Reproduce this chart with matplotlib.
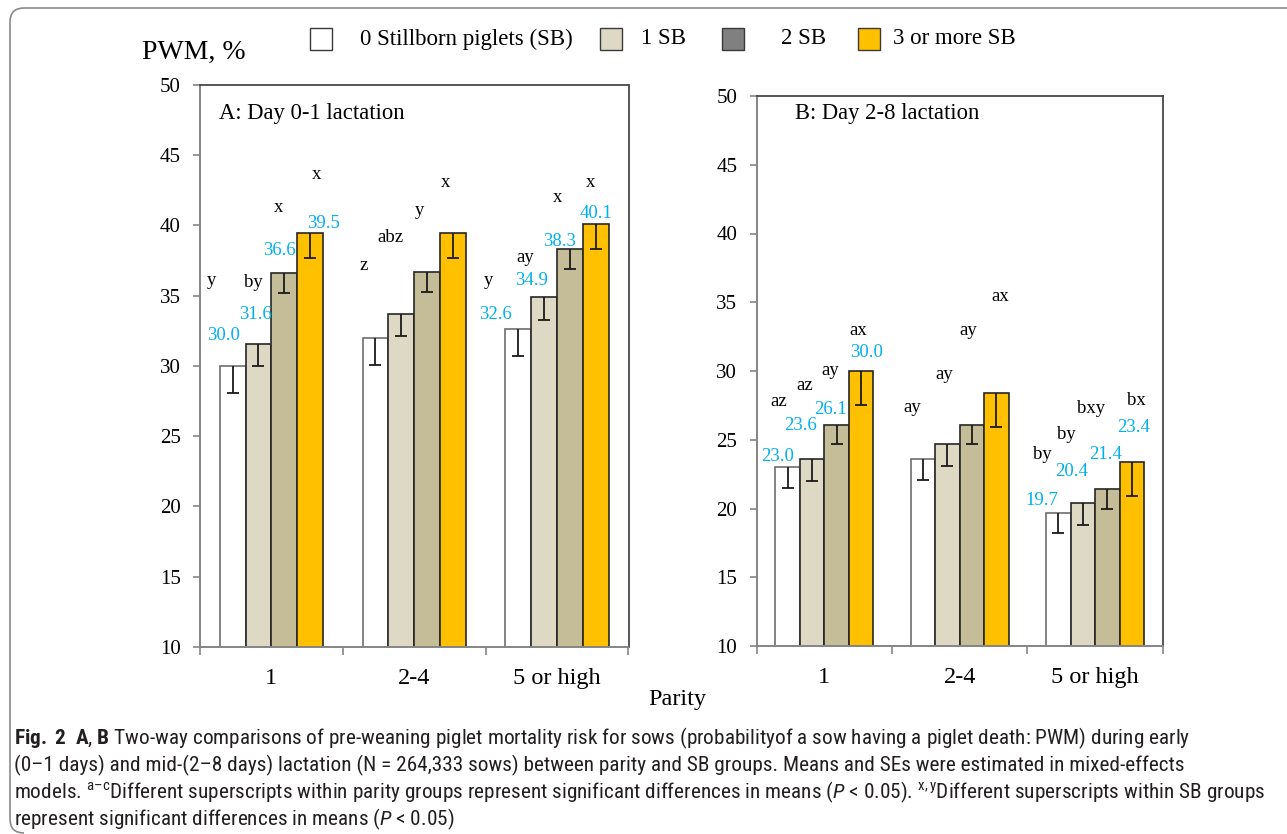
import numpy as np
import matplotlib
matplotlib.use("Agg")
import matplotlib.pyplot as plt
from matplotlib import font_manager
from matplotlib.patches import Rectangle, PathPatch
from matplotlib.path import Path
from matplotlib.transforms import IdentityTransform

# ---------------------------------------------------------------- data
parity = ["1", "2-4", "5 or high"]
sb_groups = ["0 Stillborn piglets (SB)", "1 SB", "2 SB", "3 or more SB"]

# PWM (%) by parity (rows) and SB group (columns)
pwm_day01 = [[30.0, 31.6, 36.6, 39.5],
             [32.0, 33.7, 36.7, 39.5],
             [32.6, 34.9, 38.3, 40.1]]
se_day01 = [[1.9, 1.6, 1.4, 1.8],
            [1.9, 1.6, 1.4, 1.8],
            [1.9, 1.6, 1.4, 1.8]]
pwm_day28 = [[23.0, 23.6, 26.1, 30.0],
             [23.6, 24.7, 26.1, 28.4],
             [19.7, 20.4, 21.4, 23.4]]
se_day28 = [[1.5, 1.6, 1.4, 2.5],
            [1.5, 1.6, 1.4, 2.5],
            [1.5, 1.6, 1.4, 2.5]]

letters_day01 = [["y", "by", "x", "x"],
                 ["z", "abz", "y", "x"],
                 ["y", "ay", "x", "x"]]
letters_day28 = [["az", "az", "ay", "ax"],
                 ["ay", "ay", "ay", "ax"],
                 ["by", "by", "bxy", "bx"]]
# parity groups whose means are printed above the bars
labelled_parity = [0, 2]

# ------------------------------------------------------------- layout
# text anchors (data coords) for superscript letters and printed means
letter_pos_A = [[(-0.418, 36.07), (-0.127, 35.93), (0.053, 41.30), (0.317, 43.60)],
                [(0.644, 37.12), (0.835, 39.18), (1.034, 41.10), (1.220, 43.05)],
                [(1.522, 36.12), (1.776, 37.74), (2.005, 41.98), (2.231, 43.05)]]
value_pos_A = {0: [(-0.337, 32.33), (-0.115, 33.79), (0.053, 38.33), (0.363, 40.27)],
               2: [(1.566, 33.79), (1.823, 36.24), (2.016, 39.00), (2.273, 40.98)]}
letter_pos_B = [[(-0.340, 27.77), (-0.143, 28.91), (0.042, 30.02), (0.251, 32.93)],
                [(0.653, 27.36), (0.884, 29.71), (1.064, 32.93), (1.298, 35.40)],
                [(1.611, 23.96), (1.791, 25.35), (1.968, 27.29), (2.308, 27.84)]]
value_pos_B = {0: [(-0.347, 23.96), (-0.180, 26.15), (0.047, 27.36), (0.308, 31.48)],
               2: [(1.606, 20.74), (1.828, 22.85), (2.081, 24.06), (2.283, 26.00)]}

bar_fill = ["#FFFFFF", "#DDD9C4", "#C4BD97", "#FFC000"]
bar_edge = ["#6E6E6E", "#262626", "#262626", "#262626"]
legend_fill = ["#FFFFFF", "#DDD9C4", "#808080", "#FFC000"]
value_color = "#00B0F0"
axis_gray = "#858585"

W, H = 1287, 834
SERIF = "Liberation Serif"
plt.rcParams["font.family"] = [SERIF, "DejaVu Serif"]

fig = plt.figure(figsize=(W / 100, H / 100), dpi=100)
fig.patch.set_facecolor("white")


def px_box(left, top, right, bottom):
    return [left / W, 1 - bottom / H, (right - left) / W, (bottom - top) / H]


def draw_panel(ax, values, errors, letters, letter_pos, value_pos, title, title_xy):
    values = np.asarray(values)
    errors = np.asarray(errors)
    x = np.arange(len(parity))
    width = 0.181
    offsets = (np.arange(len(sb_groups)) - 1.5) * width
    for k in range(len(sb_groups)):
        ax.bar(x + offsets[k], values[:, k], width=width, bottom=0,
               color=bar_fill[k], edgecolor=bar_edge[k], linewidth=1.2, zorder=2)
        eb = ax.errorbar(x + offsets[k], values[:, k],
                         yerr=[errors[:, k], np.zeros(len(parity))],
                         fmt="none", ecolor="#1a1a1a", elinewidth=1.3,
                         capsize=4.2, capthick=1.3, zorder=3)
        caps = eb.lines[1]
        if len(caps) > 1:
            caps[1].set_visible(False)   # minus-only bars: no cap at the bar top
    for i in range(len(parity)):
        for k in range(len(sb_groups)):
            lx, ly = letter_pos[i][k]
            ax.text(lx, ly, letters[i][k], ha="center", va="center",
                    fontsize=13.5, color="black", zorder=4)
    for i in labelled_parity:
        for k in range(len(sb_groups)):
            vx, vy = value_pos[i][k]
            ax.text(vx, vy, f"{values[i, k]:.1f}", ha="center",
                    va="center_baseline", fontsize=13.5, color=value_color, zorder=4)

    ax.set_xlim(-0.5, len(parity) - 0.5)
    ax.set_ylim(10, 50)
    ax.set_yticks(np.arange(10, 51, 5))
    ax.set_xticks(np.arange(len(parity) + 1) - 0.5)
    ax.set_xticklabels([])
    ax.set_xticks(x, minor=True)
    ax.set_xticklabels(parity, minor=True, fontsize=17.5)
    ax.tick_params(axis="x", which="major", direction="out", length=6,
                   width=1.2, color=axis_gray)
    ax.tick_params(axis="x", which="minor", length=0, pad=15)
    ax.tick_params(axis="y", direction="out", length=5, width=1.2,
                   color=axis_gray, labelsize=15, pad=9)
    for side in ("left", "bottom"):
        ax.spines[side].set_color(axis_gray)
        ax.spines[side].set_linewidth(1.4)
    for side in ("top", "right"):
        ax.spines[side].set_color("#3a3a3a")
        ax.spines[side].set_linewidth(1.2)
    ax.text(title_xy[0], title_xy[1], title, transform=ax.transAxes,
            ha="left", va="center", fontsize=16.3)


axA = fig.add_axes(px_box(200, 85, 628.5, 647))
axB = fig.add_axes(px_box(756.7, 96, 1162.7, 646))
draw_panel(axA, pwm_day01, se_day01, letters_day01, letter_pos_A, value_pos_A,
           "A: Day 0-1 lactation", (0.044, 0.950))
draw_panel(axB, pwm_day28, se_day28, letters_day28, letter_pos_B, value_pos_B,
           "B: Day 2-8 lactation", (0.094, 0.969))

# axis titles
fig.text(142 / W, 1 - 52 / H, "PWM, %", ha="left", va="center", fontsize=20)
fig.text(677 / W, 1 - 700 / H, "Parity", ha="center", va="center", fontsize=17.5)

# legend row across the top
patch_left = [310, 600, 722, 858]
text_left = [360, 641, 781, 893]
for k, name in enumerate(sb_groups):
    fig.patches.append(Rectangle((patch_left[k] / W, 1 - 50 / H), 22 / W, 22 / H,
                                 transform=fig.transFigure, facecolor=legend_fill[k],
                                 edgecolor="#3a3a3a", linewidth=1.0))
    fig.text(text_left[k] / W, 1 - 39 / H, name, ha="left", va="center", fontsize=16.5)

# caption
names = {f.name for f in font_manager.fontManager.ttflist}
cap_font = next(n for n in ["Liberation Sans Narrow", "Roboto Condensed",
                            "Open Sans Condensed", "Noto Sans", "DejaVu Sans"] if n in names)
plt.rcParams["mathtext.fontset"] = "custom"
plt.rcParams["mathtext.rm"] = cap_font
plt.rcParams["mathtext.it"] = cap_font + ":italic"
plt.rcParams["mathtext.bf"] = cap_font + ":bold"

cap_color = "#231F20"
DASH = "\u2013"
caption = [
    "$\\mathbf{Fig.\\ 2}$  $\\mathbf{A}$, $\\mathbf{B}$ Two-way comparisons of pre-weaning piglet "
    "mortality risk for sows (probabilityof a sow having a piglet death: PWM) during early",
    f"(0{DASH}1 days) and mid-(2{DASH}8 days) lactation (N = 264,333 sows) between parity "
    "and SB groups. Means and SEs were estimated in mixed-effects",
    f"models. $^{{\\mathrm{{a{DASH}c}}}}$Different superscripts within parity groups represent "
    "significant differences in means ($\\mathit{P}$ < 0.05). $^{\\mathrm{x,y}}$Different "
    "superscripts within SB groups",
    "represent significant differences in means ($\\mathit{P}$ < 0.05)",
]
line_right = [1225, 1218, 1266, 557]
baselines = [744, 771, 798, 825]
cap_left = 14

renderer = fig.canvas.get_renderer()
scales = []
for line, right in zip(caption, line_right):
    probe = fig.text(0, 0, line, fontsize=12, family=cap_font)
    scales.append((right - cap_left) / probe.get_window_extent(renderer).width)
    probe.remove()
cap_size = 12 * min(scales)
for line, yb in zip(caption, baselines):
    fig.text(cap_left / W, 1 - yb / H, line, ha="left", va="baseline",
             fontsize=cap_size, family=cap_font, color=cap_color)

# frame: top and left edges with rounded corners
r = 14
top, left, bottom = H - 8, 10, H - 833
verts = [(W, top), (left + r, top), (left, top), (left, top - r),
         (left, bottom + r), (left, bottom), (left + r, bottom)]
codes = [Path.MOVETO, Path.LINETO, Path.CURVE3, Path.CURVE3,
         Path.LINETO, Path.CURVE3, Path.CURVE3]
fig.patches.append(PathPatch(Path(verts, codes), transform=IdentityTransform(),
                             facecolor="none", edgecolor="#8a8a8a", linewidth=1.2))

fig.savefig("out.png", dpi=100, facecolor="white")
